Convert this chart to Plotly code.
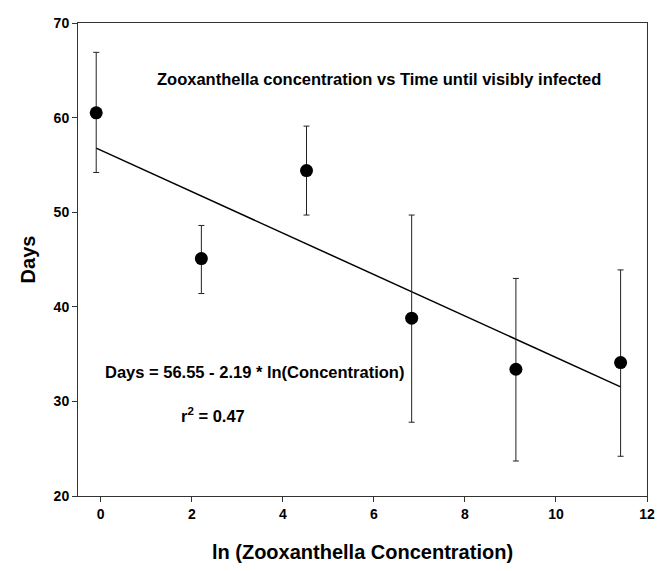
import plotly.graph_objects as go

# Data
ln_conc = [-0.10, 2.21, 4.52, 6.83, 9.12, 11.42]
days = [60.5, 45.1, 54.4, 38.8, 33.4, 34.1]
err_up = [6.4, 3.5, 4.7, 10.9, 9.6, 9.8]
err_down = [6.3, 3.7, 4.7, 11.0, 9.7, 9.9]

intercept = 56.55
slope = -2.19

x_ticks = [0, 2, 4, 6, 8, 10, 12]
y_ticks = [20, 30, 40, 50, 60, 70]

fit_x = [min(ln_conc), max(ln_conc)]
fit_y = [intercept + slope * v for v in fit_x]

FONT = "Arial, 'Liberation Sans', sans-serif"

fig = go.Figure()
fig.add_trace(go.Scatter(
    x=fit_x, y=fit_y, mode="lines",
    line=dict(color="black", width=1.5), showlegend=False,
))
fig.add_trace(go.Scatter(
    x=ln_conc, y=days, mode="markers",
    marker=dict(color="black", size=13),
    error_y=dict(type="data", symmetric=False, array=err_up, arrayminus=err_down,
                 color="#222222", thickness=1, width=3),
    showlegend=False,
))

fig.add_annotation(x=6.12, y=64.1, xref="x", yref="y",
                   text="<b>Zooxanthella concentration vs Time until visibly infected</b>",
                   showarrow=False, font=dict(family=FONT, size=16.5, color="black"))
fig.add_annotation(x=3.37, y=33.07, xref="x", yref="y",
                   text="<b>Days = 56.55 - 2.19 * ln(Concentration)</b>",
                   showarrow=False, font=dict(family=FONT, size=16.5, color="black"))
fig.add_annotation(x=2.47, y=28.6, xref="x", yref="y",
                   text="<b>r<sup>2</sup> = 0.47</b>",
                   showarrow=False, font=dict(family=FONT, size=16.5, color="black"))

# page body has an 8px default margin, so the figure is slightly smaller
fig.update_layout(
    width=660, height=563,
    margin=dict(l=70, r=21, t=7, b=75),
    paper_bgcolor="white", plot_bgcolor="white",
    font=dict(family=FONT, color="black"),
    xaxis=dict(
        range=[-0.5, 12], tickvals=x_ticks, ticktext=[f"<b>{t}</b>" for t in x_ticks],
        showgrid=False, zeroline=False, showline=True, linecolor="#333333", linewidth=1,
        mirror=True, ticks="outside", ticklen=5, tickcolor="#333333",
        ticklabeloverflow="allow",
        tickfont=dict(family=FONT, size=14, color="black"),
        title=dict(text="<b>ln (Zooxanthella Concentration)</b>",
                   font=dict(family=FONT, size=20, color="black"), standoff=24),
    ),
    yaxis=dict(
        range=[20, 70], tickvals=y_ticks, ticktext=[f"<b>{t}</b>" for t in y_ticks],
        showgrid=False, zeroline=False, showline=True, linecolor="#333333", linewidth=1,
        mirror=True, ticks="outside", ticklen=5, tickcolor="#333333",
        ticklabeloverflow="allow",
        tickfont=dict(family=FONT, size=14, color="black"),
        title=dict(text="<b>Days</b>", font=dict(family=FONT, size=20, color="black"),
                   standoff=12),
    ),
)

fig.write_html("out.html")
